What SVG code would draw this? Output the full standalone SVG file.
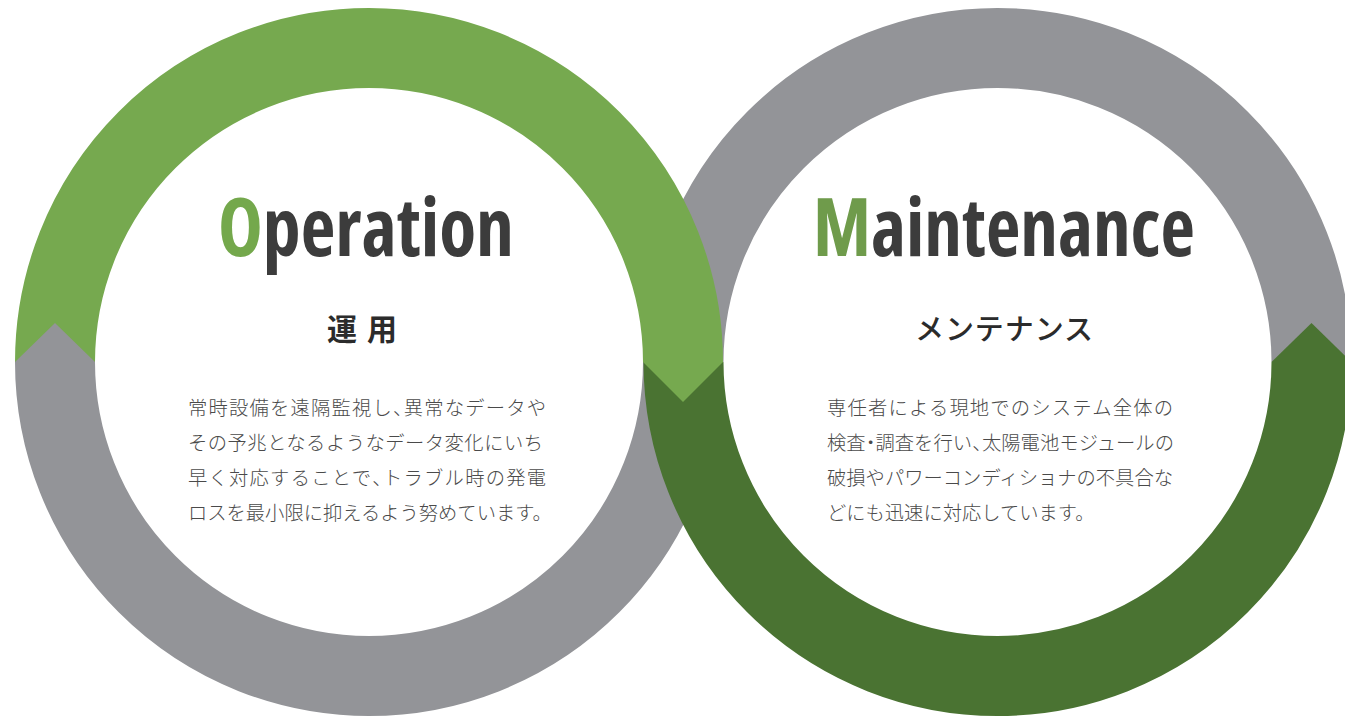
<svg xmlns="http://www.w3.org/2000/svg" width="1345" height="717" viewBox="0 0 1345 717">
<style>
.ring{fill:none;stroke-width:80;stroke-linecap:butt}
.gray{stroke:#939498}
.lg{stroke:#76a94f}
.dg{stroke:#4a7332}
.title{font-family:"Open Sans","Liberation Sans",sans-serif;font-weight:700;font-size:80px;fill:#3c3c3c;font-stretch:semi-condensed}
.sub{font-family:"Noto Sans CJK JP",sans-serif;fill:#2b2b2b}
.body{font-family:"Noto Sans CJK JP",sans-serif;font-size:19.3px;font-weight:300;fill:#4a4a4a}
.h{font-feature-settings:"halt"}
</style>
<rect width="1345" height="717" fill="#ffffff"/>
<g id="rings">
  <path class="ring gray" d="M 683.5 362 A 314 314 0 0 1 1311.5 362"/>
  <path class="ring gray" d="M 55 362 A 314 314 0 0 0 683 362"/>
  <path class="ring dg" d="M 683.5 362 A 314 314 0 0 0 1311.5 362"/>
  <path class="ring lg" d="M 55 362 A 314 314 0 0 1 683 362"/>
  <polygon points="643,362 723,362 683,402" fill="#76a94f"/>
  <polygon points="15,362 95,362 55,323" fill="#939498"/>
  <polygon points="1271.5,362 1351.5,362 1311.5,323" fill="#4a7332"/>
</g>
<g id="operation">
  <text class="title" x="218" y="256" textLength="296" lengthAdjust="spacingAndGlyphs"><tspan fill="#74a84c">O</tspan>peration</text>
  <text class="sub" x="362" y="340" font-size="30" font-weight="700" text-anchor="middle" textLength="70" lengthAdjust="spacing">運 用</text>
  <text class="body" x="188" y="415" textLength="358" lengthAdjust="spacing">常時設備を遠隔監視し<tspan class="h">、</tspan>異常なデータや</text>
  <text class="body" x="188" y="450" textLength="355" lengthAdjust="spacing">その予兆となるようなデータ変化にいち</text>
  <text class="body" x="188" y="485" textLength="358" lengthAdjust="spacing">早く対応することで<tspan class="h">、</tspan>トラブル時の発電</text>
  <text class="body" x="188" y="520">ロスを最小限に抑えるよう努めています。</text>
</g>
<g id="maintenance">
  <text class="title" x="813" y="256" textLength="382" lengthAdjust="spacingAndGlyphs"><tspan fill="#6f9b4b">M</tspan>aintenance</text>
  <text class="sub" x="1004" y="340" font-size="29" font-weight="500" text-anchor="middle" textLength="178" lengthAdjust="spacing">メンテナンス</text>
  <text class="body" x="827" y="415" textLength="346" lengthAdjust="spacing">専任者による現地でのシステム全体の</text>
  <text class="body" x="827" y="450" textLength="347" lengthAdjust="spacing">検査<tspan class="h">・</tspan>調査を行い<tspan class="h">、</tspan>太陽電池モジュールの</text>
  <text class="body" x="827" y="485" textLength="346" lengthAdjust="spacing">破損やパワーコンディショナの不具合な</text>
  <text class="body" x="827" y="520">どにも迅速に対応しています。</text>
</g>
</svg>
